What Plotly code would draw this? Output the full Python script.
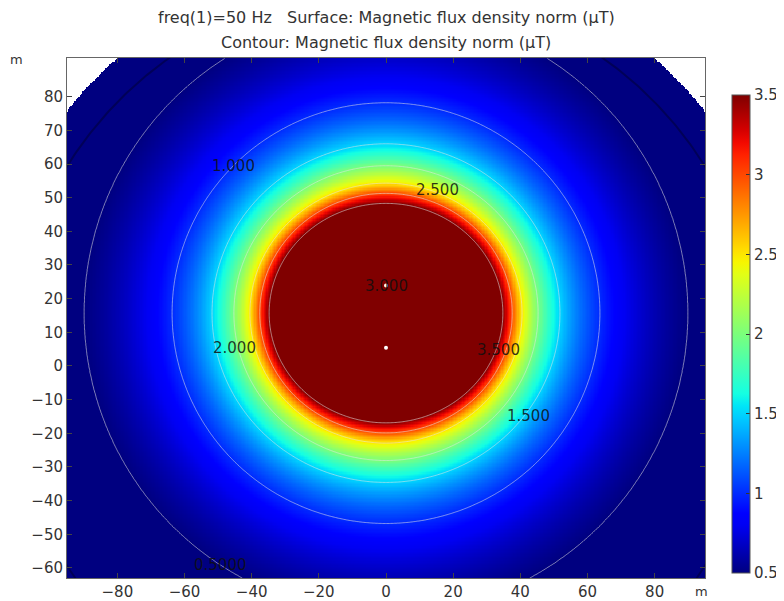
import numpy as np
import plotly.graph_objects as go

# ---------------- data ----------------
levels = [3.5, 3.0, 2.5, 2.0, 1.5, 1.0, 0.5]                      # µT contour levels
radius_horizontal = [34.8, 37.6, 40.5, 45.3, 51.8, 63.7, 89.9]     # m, level radius along x
radius_vertical = [32.6, 35.6, 38.6, 43.8, 50.3, 62.5, 89.5]       # m, level radius along y
field_centre = [0.0, 15.7]                                         # m
domain_radius = 121.5                                              # m
inner_ring_radius = 112.0                                          # m
conductor_x = [0.0, 0.0]
conductor_y = [23.9, 5.4]
label_text = ["1.000", "2.500", "3.000", "2.000", "3.500", "1.500", "0.5000"]
label_x = [-45.5, 15.2, 0.0, -45.0, 33.5, 42.4, -49.4]
label_y = [59.4, 52.3, 23.9, 5.2, 4.7, -14.9, -59.0]
x_ticks = [-80, -60, -40, -20, 0, 20, 40, 60, 80]
y_ticks = [-60, -50, -40, -30, -20, -10, 0, 10, 20, 30, 40, 50, 60, 70, 80]
cbar_ticks = [0.5, 1.0, 1.5, 2.0, 2.5, 3.0, 3.5]
cbar_ticktext = ["0.5", "1", "1.5", "2", "2.5", "3", "3.5"]
x_range = [-95.0, 95.0]
y_range = [-63.0, 91.5]
title_line1 = "freq(1)=50 Hz\u00a0\u00a0\u00a0Surface: Magnetic flux density norm (µT)"
title_line2 = "Contour: Magnetic flux density norm (µT)"

# ---------------- field on a grid (interpolated between read contour radii) ----------------
xs = np.arange(x_range[0], x_range[1] + 0.001, 0.4)
ys = np.arange(y_range[0], y_range[1] + 0.001, 0.4)
X, Y = np.meshgrid(xs, ys)
dx = X - field_centre[0]
dy = Y - field_centre[1]
rho = np.maximum(np.hypot(dx, dy), 1e-3)
c2 = (dx / rho) ** 2
s2 = (dy / rho) ** 2
rh = np.array(radius_horizontal)[:, None, None]
rv = np.array(radius_vertical)[:, None, None]
Rk = 1.0 / np.sqrt(c2 / rh ** 2 + s2 / rv ** 2)
logR = np.log(Rk)
logL = np.log(np.array(levels))
lr = np.log(rho)
n = len(levels)


def seg(k):
    slope = (logL[k + 1] - logL[k]) / (logR[k + 1] - logR[k])
    return logL[k] + slope * (lr - logR[k])


zlog = seg(0)
for k in range(1, n - 1):
    zlog = np.where(lr >= logR[k], seg(k), zlog)
Z = np.minimum(np.exp(zlog), 50.0)
Zs = np.where(X ** 2 + Y ** 2 <= domain_radius ** 2, Z, np.nan)
Zs = np.round(Zs, 3)

# jet colour scale (matplotlib definition)
def jet(t):
    r = np.interp(t, [0, 0.35, 0.66, 0.89, 1.0], [0, 0, 1, 1, 0.5])
    g = np.interp(t, [0, 0.125, 0.375, 0.64, 0.91, 1.0], [0, 0, 1, 1, 0, 0])
    b = np.interp(t, [0, 0.11, 0.34, 0.65, 1.0], [0.5, 1, 1, 0, 0])
    return "rgb(%d,%d,%d)" % (round(r * 255), round(g * 255), round(b * 255))


stops = np.linspace(0, 1, 41)
jet_scale = [[float(t), jet(t)] for t in stops]

font_family = "DejaVu Sans"
txt = "#333333"

# the page body has an 8px margin, so figure pixels = window pixels - 8
OFF = 8
W, H = 784 - OFF, 601 - OFF
PL, PR, PT, PB = 67 - OFF, 705 - OFF, 58 - OFF, 578 - OFF


def px_to_paper(px, py):
    # px, py are window pixel positions
    return (px - OFF - PL) / (PR - PL), (PB - (py - OFF)) / (PB - PT)


fig = go.Figure()
fig.add_trace(go.Heatmap(
    x=xs, y=ys, z=Zs, zmin=cbar_ticks[0], zmax=cbar_ticks[-1],
    colorscale=jet_scale, hoverinfo="skip",
    colorbar=dict(
        x=px_to_paper(732, 0)[0], xanchor="left", xpad=0,
        y=px_to_paper(0, 334)[1], yanchor="middle", ypad=0,
        len=478, lenmode="pixels", thickness=18, thicknessmode="pixels",
        tickvals=cbar_ticks, ticktext=cbar_ticktext, ticks="inside", ticklen=4,
        tickcolor="#333", outlinewidth=1, outlinecolor="#555",
        tickfont=dict(family=font_family, size=15, color=txt),
    ),
))
fig.add_trace(go.Contour(
    x=xs, y=ys, z=np.round(Z, 3),
    contours=dict(start=levels[-1], end=levels[0], size=0.5, coloring="none"),
    line=dict(color="rgba(230,230,230,0.55)", width=1),
    showscale=False, hoverinfo="skip",
))
theta = np.linspace(0, 2 * np.pi, 721)
fig.add_trace(go.Scatter(
    x=inner_ring_radius * np.cos(theta), y=inner_ring_radius * np.sin(theta),
    mode="lines", line=dict(color="rgba(0,0,40,0.45)", width=2), hoverinfo="skip",
))
fig.add_trace(go.Scatter(
    x=conductor_x, y=conductor_y, mode="markers",
    marker=dict(color="white", size=4), hoverinfo="skip",
))

for t, lx, ly in zip(label_text, label_x, label_y):
    fig.add_annotation(x=lx, y=ly, text=t, showarrow=False, xanchor="center", yanchor="middle",
                       font=dict(family=font_family, size=15, color="rgba(15,15,15,0.85)"))


def paper_text(px, py, text, size):
    ax, ay = px_to_paper(px, py)
    fig.add_annotation(xref="paper", yref="paper", x=ax, y=ay, text=text, showarrow=False,
                       xanchor="center", yanchor="middle",
                       font=dict(family=font_family, size=size, color=txt))


paper_text(386, 17, title_line1, 16)
paper_text(386, 42, title_line2, 16)
paper_text(17, 60, "m", 13)
paper_text(701, 591, "m", 13)

axis_common = dict(showgrid=False, zeroline=False, ticks="inside", ticklen=5,
                   tickcolor="#444", showline=True, linecolor="#666", linewidth=1,
                   mirror="ticks", tickfont=dict(family=font_family, size=15, color=txt))
fig.update_xaxes(range=x_range, tickvals=x_ticks, **axis_common)
fig.update_yaxes(range=y_range, tickvals=y_ticks, **axis_common)

fig.update_layout(
    width=W, height=H,
    margin=dict(l=PL, r=W - PR, t=PT, b=H - PB, autoexpand=False),
    plot_bgcolor="white", paper_bgcolor="white",
    showlegend=False,
    font=dict(family=font_family, color=txt),
)
fig.write_html("out.html")
